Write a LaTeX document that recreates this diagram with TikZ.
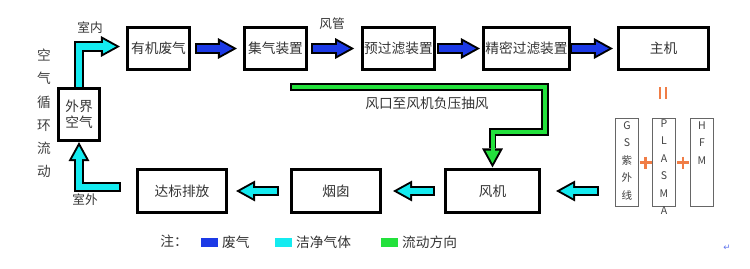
\documentclass[tikz,border=0pt]{standalone}
\usepackage{fontspec}
\setmainfont{Noto Sans CJK SC}
\newfontfamily\symfont{DejaVu Sans}
\usetikzlibrary{arrows.meta, calc, positioning}

\definecolor{flowblue}{RGB}{28,58,230}
\definecolor{flowcyan}{RGB}{20,235,240}
\definecolor{flowgreen}{RGB}{35,225,60}
\definecolor{signorange}{RGB}{240,125,70}

\tikzset{
  stage/.style={draw=black, line width=1.5pt, minimum height=0.85cm, inner sep=1pt,
    text=black!80, font=\fontsize{7.8}{9}\selectfont},
  unitbox/.style={draw=black!60, line width=0.6pt, minimum width=0.46cm, minimum height=1.76cm},
  unittext/.style={font=\fontsize{6}{10}\selectfont, text=black!75, align=center,
    anchor=north, inner sep=0pt},
  txt/.style={font=\fontsize{7.8}{9}\selectfont, text=black!80, inner sep=1pt},
  smalltxt/.style={font=\fontsize{7.2}{9}\selectfont, text=black!80, inner sep=1pt},
  flowout/.style={draw=black, line join=miter, shorten <=-1.13pt,
    -{Triangle[width=11.9pt, length=10.8pt, line width=0pt]}},
  flowin/.style={line join=miter, shorten >=2.34pt,
    -{Triangle[width=8.05pt, length=7.3pt, line width=0pt]}},
  signline/.style={draw=signorange, line width=1.5pt},
  legkey/.style={minimum width=0.34cm, minimum height=0.18cm, inner sep=0pt},
}

% colour, outer width, inner width, path
\newcommand{\flowarrow}[4]{%
  \draw[flowout, line width=#2] #4;
  \draw[flowin, line width=#3, draw=#1] #4;
}

\begin{document}
\begin{tikzpicture}[x=0.02cm, y=-0.02cm]
    \useasboundingbox (0,0) rectangle (750,268);

    % process stages
    \node[stage, minimum width=1.25cm] (yj) at (158.5,48.5) {有机废气};
    \node[stage, minimum width=1.25cm] (jq) at (275.5,48.5) {集气装置};
    \node[stage, minimum width=1.41cm] (ygl) at (398.5,48.5) {预过滤装置};
    \node[stage, minimum width=1.73cm] (jm) at (526.5,48.5) {精密过滤装置};
    \node[stage, minimum width=1.81cm] (zj) at (663.5,48.5) {主机};
    \node[stage, minimum width=0.83cm, minimum height=1.05cm, align=center] (wj) at (79,114.5) {外界\\空气};
    \node[stage, minimum width=1.79cm] (db) at (182,191) {达标排放};
    \node[stage, minimum width=1.79cm] (yc) at (336,191) {烟囱};
    \node[stage, minimum width=1.89cm] (fj) at (492.5,191) {风机};

    % GS + PLASMA + HFM units
    \node[unitbox] (gs) at (627,162.5) {};
    \node[unitbox] (pl) at (664,162.5) {};
    \node[unitbox] (hf) at (702,162.5) {};
    \node[unittext] (gst) at ($(gs.north)+(0,3)$) {G\\S\\紫\\外\\线};
    \node[unittext] (plt) at ($(pl.north)+(0,1)$) {P\\L\\A\\S\\M\\A};
    \node[unittext] (hft) at ($(hf.north)+(0,3)$) {H\\F\\M};

    \coordinate (eq) at (663,93);
    \draw[signline, line width=1.2pt] ($(eq)+(-3,-6)$) -- ($(eq)+(-3,6)$)
        ($(eq)+(3,-6)$) -- ($(eq)+(3,6)$);
    \coordinate (p1) at ($(gs.east)!0.5!(pl.west)$);
    \coordinate (p2) at ($(pl.east)!0.5!(hf.west)$);
    \draw[signline] ($(p1)+(-6,0)$) -- ($(p1)+(6,0)$) ($(p1)+(0,-6)$) -- ($(p1)+(0,6)$);
    \draw[signline] ($(p2)+(-6,0)$) -- ($(p2)+(6,0)$) ($(p2)+(0,-6)$) -- ($(p2)+(0,6)$);

    % labels
    \node[font=\fontsize{7.8}{13.2}\selectfont, text=black!75, align=center] (vt) at (44,113.5) {空\\气\\循\\环\\流\\动};
    \node[smalltxt] (tn) at (90,28) {室内};
    \node[smalltxt] (tw) at (85,200) {室外};
    \node[smalltxt] (fg) at (332,24) {风管};
    \node[txt] (fk) at (427,103) {风口至风机负压抽风};

    % waste gas
    \flowarrow{flowblue}{5.95pt}{3.68pt}{($(yj.east)+(6,0)$) -- ($(jq.west)+(-6,0)$)}
    \flowarrow{flowblue}{5.95pt}{3.68pt}{($(jq.east)+(5,0)$) -- ($(ygl.west)+(-7,0)$)}
    \flowarrow{flowblue}{5.95pt}{3.68pt}{($(ygl.east)+(3,0)$) -- ($(jm.west)+(-2,0)$)}
    \flowarrow{flowblue}{5.95pt}{3.68pt}{($(jm.east)+(1,0)$) -- ($(zj.west)+(-4,0)$)}

    % clean air
    \coordinate (outStart) at (119,187);
    \flowarrow{flowcyan}{5.95pt}{3.68pt}{(wj.north) |- ($(yj.west)+(-6,-2)$)}
    \flowarrow{flowcyan}{5.95pt}{3.68pt}{(outStart) -| (wj.south)}
    \flowarrow{flowcyan}{5.95pt}{3.68pt}{($(gs.west |- fj.east)+(-18,0)$) -- ($(fj.east)+(15,0)$)}
    \flowarrow{flowcyan}{5.95pt}{3.68pt}{($(fj.west)+(-11,0)$) -- ($(yc.east)+(11,0)$)}
    \flowarrow{flowcyan}{5.95pt}{3.68pt}{($(yc.west)+(-13,0)$) -- ($(db.east)+(8,0)$)}

    % suction
    \coordinate (gStart) at (292,87);
    \coordinate (gTurn) at (545,132);
    \flowarrow{flowgreen}{4.54pt}{2.27pt}{(gStart) -| (gTurn) -| ($(fj.north)+(0,-1)$)}

    % legend
    \node[txt] (note) at (174,241) {注：};
    \node[legkey, fill=flowblue] (k1) at (209.5,242.5) {};
    \node[txt, right=1pt of k1] (t1) {废气};
    \node[legkey, fill=flowcyan] (k2) at (283.5,242.5) {};
    \node[txt, right=1pt of k2] (t2) {洁净气体};
    \node[legkey, fill=flowgreen] (k3) at (389.5,242.5) {};
    \node[txt, right=1pt of k3] (t3) {流动方向};
    \node[font=\symfont\fontsize{5}{5}\selectfont, text=flowblue!70] (ret) at (727,248) {↵};
\end{tikzpicture}
\end{document}
